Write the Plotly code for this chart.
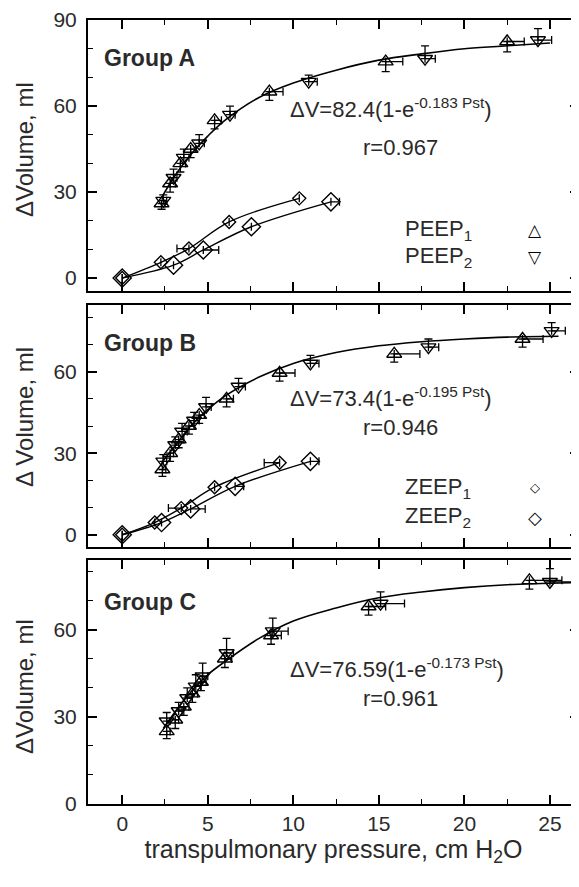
import plotly.graph_objects as go

# ---------------- data ----------------
# Group A
a_peep1_x = [2.3, 2.8, 3.4, 4.0, 5.4, 8.6, 15.4, 22.5]
a_peep1_y = [26, 33, 40, 45, 55, 65, 75.5, 82.5]
a_peep1_ey = [2, 3, 3, 3, 3, 3, 3.5, 3.6]
a_peep1_ex = [0.2, 0.3, 0.3, 0.3, 0.4, 0.8, 1.0, 1.0]
a_peep2_x = [2.4, 3.0, 3.6, 4.5, 6.3, 10.9, 17.7, 24.3]
a_peep2_y = [27, 35, 42, 47, 57, 68.5, 76.5, 83]
a_peep2_ey = [2, 3, 3, 3, 3, 2.3, 4.5, 4]
a_peep2_ex = [0.2, 0.2, 0.3, 0.3, 0.3, 0.5, 0.6, 0.8]
a_fit_x = [2.3, 3, 4, 5, 6, 8, 10, 12.5, 15, 17.5, 20, 22.5, 25]
a_fit_y = [28, 35, 43, 49.5, 55, 63, 68, 72.5, 76, 78.2, 80, 81, 82]
a_zeep1_x = [0, 2.26, 3.9, 6.25, 10.35]
a_zeep1_y = [0, 5.5, 10.3, 19.6, 27.8]
a_zeep1_exm = [0, 0, 0.7, 0, 0]
a_zeep2_x = [0, 3.0, 4.74, 7.55, 12.2]
a_zeep2_y = [0, 4.5, 9.8, 17.9, 26.6]
a_zeep2_exp = [0, 0, 0.9, 0, 0.5]

# Group B
b_peep1_x = [2.35, 2.8, 3.3, 3.9, 4.5, 6.1, 9.2, 15.9, 23.4]
b_peep1_y = [24, 30, 35, 40, 44, 50, 59.5, 66.5, 72]
b_peep1_ey = [2.5, 3, 3, 3, 3, 3, 3, 3, 3]
b_peep1_ex = [0.2, 0.2, 0.3, 0.3, 0.3, 0.4, 0.9, 1.5, 1.2]
b_peep2_x = [2.4, 3.1, 3.5, 4.2, 4.9, 6.8, 11.0, 17.9, 25.1]
b_peep2_y = [27, 33, 38, 42, 47, 54.5, 63, 69, 75]
b_peep2_ey = [2.5, 3, 3, 3, 3.5, 3, 3, 3, 3]
b_peep2_ex = [0.2, 0.2, 0.3, 0.3, 0.3, 0.4, 0.5, 0.6, 0.8]
b_fit_x = [2.3, 3, 4, 5, 6, 8, 10, 12.5, 15, 17.5, 20, 22.5, 25.5]
b_fit_y = [26.5, 32, 40, 46, 51, 58, 63, 67, 69.5, 71, 72, 72.7, 73]
b_zeep1_x = [0, 1.9, 3.45, 5.4, 9.2]
b_zeep1_y = [0, 4.5, 9.8, 17.5, 26.5]
b_zeep1_exm = [0, 0, 0.75, 0, 0.9]
b_zeep2_x = [0, 2.3, 4.0, 6.6, 11.0]
b_zeep2_y = [0, 4.5, 9.5, 17.8, 27]
b_zeep2_exp = [0, 0, 0.85, 0.5, 0.5]

# Group C
c_peep1_x = [2.6, 3.1, 3.6, 4.1, 4.6, 6.0, 8.7, 14.4, 23.8]
c_peep1_y = [25, 29, 33.5, 38, 42, 50, 58, 68, 77]
c_peep1_ey = [2.5, 3, 3, 3, 3, 3, 3, 3, 3]
c_peep1_ex = [0.2, 0.2, 0.3, 0.3, 0.3, 0.4, 0.6, 1.0, 1.9]
c_peep2_x = [2.6, 3.3, 3.8, 4.3, 4.7, 6.1, 8.8, 15.1, 25.0]
c_peep2_y = [28.5, 32, 36.5, 40.5, 44, 52, 59.5, 69, 76.5]
c_peep2_ey = [3, 3, 3.5, 4, 4.5, 5, 4.5, 4, 4.5]
c_peep2_ex = [0.2, 0.2, 0.3, 0.3, 0.3, 0.4, 0.9, 1.4, 1.5]
c_fit_x = [2.4, 3, 4, 5, 6, 8, 10, 12.5, 15, 17.5, 20, 22.5, 26.5]
c_fit_y = [26, 31, 38.5, 44.5, 49, 57, 63, 67.5, 71, 73, 74.5, 75.5, 76.2]

x_ticks = [0, 5, 10, 15, 20, 25]
y_ticks = [0, 30, 60, 90]

equations = [
    "ΔV=82.4(1-e<sup>-0.183 Pst</sup>)",
    "ΔV=73.4(1-e<sup>-0.195 Pst</sup>)",
    "ΔV=76.59(1-e<sup>-0.173 Pst</sup>)",
]
r_values = ["r=0.967", "r=0.946", "r=0.961"]
group_names = ["Group A", "Group B", "Group C"]
y_titles = ["ΔVolume, ml", "Δ Volume, ml", "ΔVolume, ml"]

# ---------------- figure ----------------
FONT = "Liberation Sans, Arial, sans-serif"
SYMFONT = "DejaVu Sans"
TXT = "#2a2a2a"
fig = go.Figure()

def err(plus=None, minus=None):
    d = dict(type="data", symmetric=False, color="black", thickness=1.3, width=4)
    d["array"] = plus if plus is not None else [0] * len(minus)
    d["arrayminus"] = minus if minus is not None else [0] * len(plus)
    return d

def add_peep(xs, ys, eyd, exd, xs2, ys2, eyu, exu, fx, fy, xa, ya):
    fig.add_trace(go.Scatter(x=fx, y=fy, mode="lines", line=dict(color="black", width=1.6, shape="spline"),
                             xaxis=xa, yaxis=ya, showlegend=False, hoverinfo="skip"))
    fig.add_trace(go.Scatter(x=xs, y=ys, mode="markers",
                             marker=dict(symbol="triangle-up-open", size=13, color="black", line=dict(width=1.4)),
                             error_y=err(minus=eyd), error_x=err(plus=exd),
                             xaxis=xa, yaxis=ya, showlegend=False))
    fig.add_trace(go.Scatter(x=xs2, y=ys2, mode="markers",
                             marker=dict(symbol="triangle-down-open", size=13, color="black", line=dict(width=1.4)),
                             error_y=err(plus=eyu), error_x=err(plus=exu),
                             xaxis=xa, yaxis=ya, showlegend=False))

def add_zeep(x1, y1, e1, x2, y2, e2, xa, ya):
    fig.add_trace(go.Scatter(x=x1, y=y1, mode="lines+markers",
                             line=dict(color="black", width=1.4, shape="spline"),
                             marker=dict(symbol="diamond-open", size=10, color="black", line=dict(width=1.4)),
                             error_x=err(minus=e1), xaxis=xa, yaxis=ya, showlegend=False))
    fig.add_trace(go.Scatter(x=x2, y=y2, mode="lines+markers",
                             line=dict(color="black", width=1.4, shape="spline"),
                             marker=dict(symbol="diamond-open", size=14, color="black", line=dict(width=1.4)),
                             error_x=err(plus=e2), xaxis=xa, yaxis=ya, showlegend=False))

add_peep(a_peep1_x, a_peep1_y, a_peep1_ey, a_peep1_ex, a_peep2_x, a_peep2_y, a_peep2_ey, a_peep2_ex,
         a_fit_x, a_fit_y, "x", "y")
add_zeep(a_zeep1_x, a_zeep1_y, a_zeep1_exm, a_zeep2_x, a_zeep2_y, a_zeep2_exp, "x", "y")
add_peep(b_peep1_x, b_peep1_y, b_peep1_ey, b_peep1_ex, b_peep2_x, b_peep2_y, b_peep2_ey, b_peep2_ex,
         b_fit_x, b_fit_y, "x2", "y2")
add_zeep(b_zeep1_x, b_zeep1_y, b_zeep1_exm, b_zeep2_x, b_zeep2_y, b_zeep2_exp, "x2", "y2")
add_peep(c_peep1_x, c_peep1_y, c_peep1_ey, c_peep1_ex, c_peep2_x, c_peep2_y, c_peep2_ey, c_peep2_ex,
         c_fit_x, c_fit_y, "x3", "y3")

# the page body has an 8px margin, so the figure is offset by 8px in the screenshot
OFF = 8
W, H = 571, 879
ML, MR, MT, MB = 80, 0, 12, 83
PW = W - ML - MR
PH = H - MT - MB

def px(xs):  # screen x -> paper
    return (xs - OFF - ML) / PW

def py(ys):  # screen y -> paper
    return (H - MB - (ys - OFF)) / PH

xcommon = dict(range=[-2, 26.7], tickvals=x_ticks, ticks="inside", ticklen=9, tickwidth=1.5,
               tickcolor="black", showline=True, linecolor="black", linewidth=2, mirror="ticks",
               showgrid=False, zeroline=False, automargin=False,
               minor=dict(dtick=2.5, tick0=0, ticks="inside", ticklen=5, tickwidth=1.3, tickcolor="black"),
               tickfont=dict(family=FONT, size=21, color=TXT))
ycommon = dict(tickvals=y_ticks, ticks="inside", ticklen=9, tickwidth=1.5, tickcolor="black",
               showline=True, linecolor="black", linewidth=2, mirror="ticks", showgrid=False, zeroline=False,
               automargin=False,
               minor=dict(dtick=10, tick0=0, ticks="inside", ticklen=5, tickwidth=1.3, tickcolor="black"),
               tickfont=dict(family=FONT, size=21, color=TXT), ticklabelstandoff=5)

fig.update_layout(
    width=W, height=H, margin=dict(l=ML, r=MR, t=MT, b=MB, autoexpand=False),
    paper_bgcolor="white", plot_bgcolor="white", showlegend=False,
    xaxis=dict(xcommon, anchor="y", showticklabels=False),
    xaxis2=dict(xcommon, anchor="y2", showticklabels=False, matches="x"),
    xaxis3=dict(xcommon, anchor="y3", showticklabels=True, matches="x",
                title=dict(text="transpulmonary pressure, cm H<sub>2</sub>O",
                           font=dict(family=FONT, size=25, color=TXT), standoff=4)),
    yaxis=dict(ycommon, domain=[py(291), 1.0], range=[-4.5, 90], anchor="x"),
    yaxis2=dict(ycommon, domain=[py(547), py(305)], range=[-4.5, 84.5], anchor="x2"),
    yaxis3=dict(ycommon, domain=[0, py(560)], range=[0, 84], anchor="x3"),
)

ann = []
group_y = [58, 343, 602]
eq_y = [108, 397, 668]
r_y = [147, 427, 698]
title_y = [150, 417, 687]
for i in range(3):
    ann.append(dict(text="<b>%s</b>" % group_names[i], x=px(102), y=py(group_y[i]), xref="paper", yref="paper",
                    xanchor="left", yanchor="middle", showarrow=False,
                    font=dict(family=FONT, size=23, color=TXT)))
    ann.append(dict(text=equations[i], x=px(288), y=py(eq_y[i]), xref="paper", yref="paper",
                    xanchor="left", yanchor="middle", showarrow=False,
                    font=dict(family=FONT, size=22, color=TXT)))
    ann.append(dict(text=r_values[i], x=px(400), y=py(r_y[i]), xref="paper", yref="paper",
                    xanchor="center", yanchor="middle", showarrow=False,
                    font=dict(family=FONT, size=22, color=TXT)))
    ann.append(dict(text=y_titles[i], x=px(24), y=py(title_y[i]), xref="paper", yref="paper",
                    xanchor="center", yanchor="middle", textangle=-90, showarrow=False,
                    font=dict(family=FONT, size=24, color=TXT)))

legend_rows = [
    ("PEEP<sub>1</sub>", "△", 17, 230),
    ("PEEP<sub>2</sub>", "▽", 17, 257),
    ("ZEEP<sub>1</sub>", "◇", 13, 488),
    ("ZEEP<sub>2</sub>", "◇", 18, 517),
]
for lab, sym, ssize, ypix in legend_rows:
    ann.append(dict(text=lab, x=px(403), y=py(ypix), xref="paper", yref="paper",
                    xanchor="left", yanchor="middle", showarrow=False,
                    font=dict(family=FONT, size=22, color=TXT)))
    ann.append(dict(text=sym, x=px(535), y=py(ypix), xref="paper", yref="paper",
                    xanchor="center", yanchor="middle", showarrow=False,
                    font=dict(family=SYMFONT, size=ssize, color="black")))
fig.update_layout(annotations=ann)

fig.write_html("out.html")
